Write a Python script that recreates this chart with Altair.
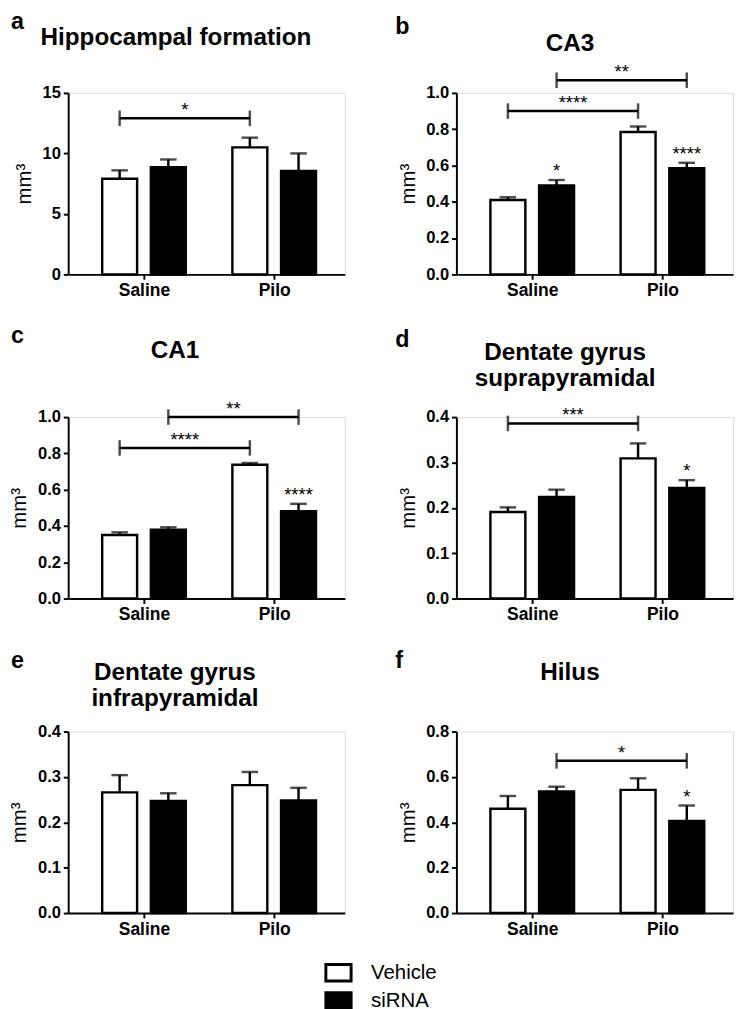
import altair as alt
import pandas as pd

# ---------------- data ----------------
groups = ["Saline", "Pilo"]
treatments = ["Vehicle", "siRNA"]

panel_letters = ["a", "b", "c", "d", "e", "f"]
panel_titles = ["Hippocampal formation", "CA3", "CA1",
                "Dentate gyrus\nsuprapyramidal", "Dentate gyrus\ninfrapyramidal", "Hilus"]
y_max = [15, 1.0, 1.0, 0.4, 0.4, 0.8]
y_step = [5, 0.2, 0.2, 0.1, 0.1, 0.2]
y_format = ["d", ".1f", ".1f", ".1f", ".1f", ".1f"]

vehicle_mean = [[7.9, 10.5], [0.41, 0.785], [0.35, 0.737], [0.191, 0.309], [0.266, 0.282], [0.46, 0.543]]
vehicle_sem = [[0.7, 0.8], [0.015, 0.03], [0.015, 0.01], [0.01, 0.033], [0.038, 0.029], [0.056, 0.051]]
sirna_mean = [[8.85, 8.55], [0.49, 0.585], [0.38, 0.482], [0.224, 0.244], [0.247, 0.248], [0.536, 0.406]]
sirna_sem = [[0.65, 1.45], [0.03, 0.03], [0.013, 0.04], [0.016, 0.017], [0.017, 0.028], [0.021, 0.068]]

# significance brackets (Saline vs Pilo within a treatment)
bracket_panel = [0, 1, 1, 2, 2, 3, 5]
bracket_treatment = ["Vehicle", "Vehicle", "siRNA", "Vehicle", "siRNA", "Vehicle", "siRNA"]
bracket_y = [12.9, 0.9, 1.07, 0.83, 1.0, 0.386, 0.671]
bracket_label = ["*", "****", "**", "****", "**", "***", "*"]

# stars above single bars
star_panel = [1, 1, 2, 3, 5]
star_group = ["Saline", "Pilo", "Pilo", "Pilo", "Pilo"]
star_treatment = ["siRNA", "siRNA", "siRNA", "siRNA", "siRNA"]
star_label = ["*", "****", "****", "*", "*"]

# ---------------- layout / style ----------------
FONT = "Liberation Sans"
W, H = 285, 187
OFF = {"Vehicle": -0.187, "siRNA": 0.187}
X_DOMAIN = [-0.545, 1.505]
TITLE_X = [111, 117, 110, 112, 110, 117]
TITLE_Y = [-49, -43, -61, -59, -53, -53]
LETTER_X = [-59, -63, -59, -63, -59, -63]
LETTER_Y = [-66, -61, -76, -72, -66, -66]

label_expr = "[" + ",".join("'%s'" % g for g in groups) + "][datum.value]"

legend = alt.Legend(
    orient="none", legendX=264, legendY=892, title=None,
    symbolType="M-1,-0.65H1V0.65H-1Z", symbolSize=676,
    symbolStrokeColor="black", symbolStrokeWidth=3,
    labelFontSize=21, labelFont=FONT, labelColor="black", labelOffset=19,
    rowPadding=0,
)


def build_panel(i):
    rows = []
    for gi, g in enumerate(groups):
        for t, ml, sl in (("Vehicle", vehicle_mean, vehicle_sem), ("siRNA", sirna_mean, sirna_sem)):
            m = ml[i][gi]
            s = sl[i][gi]
            rows.append({"group": g, "treatment": t, "pos": gi + OFF[t], "mean": m, "top": m + s})
    df = pd.DataFrame(rows)

    xscale = alt.Scale(domain=X_DOMAIN, nice=False, zero=False)
    xaxis = alt.Axis(values=[0, 1], labelExpr=label_expr, title=None, grid=False,
                     labelFontWeight="bold", labelFontSize=18, labelFont=FONT,
                     tickSize=5, tickWidth=2, domainWidth=2, labelPadding=3,
                     labelColor="black", tickColor="black", domainColor="black")
    n = int(round(y_max[i] / y_step[i]))
    yvals = [round(k * y_step[i], 3) for k in range(n + 1)]
    yscale = alt.Scale(domain=[0, y_max[i]], nice=False, zero=True)
    yaxis = alt.Axis(values=yvals, format=y_format[i], title="mm³", grid=False,
                     labelFontWeight="bold", labelFontSize=17, labelFont=FONT,
                     titleFont=FONT, titleFontSize=21, titleFontWeight="normal",
                     titlePadding=8, titleColor="black",
                     tickSize=5, tickWidth=2, domainWidth=2, labelPadding=3,
                     labelColor="black", tickColor="black", domainColor="black")

    def X(f):
        return alt.X(f, scale=xscale, axis=xaxis)

    def Y(f):
        return alt.Y(f, scale=yscale, axis=yaxis)

    base = alt.Chart(df)
    bars = base.mark_bar(orient="vertical", size=36, stroke="black", strokeWidth=2.5).encode(
        x=X("pos:Q"), y=Y("mean:Q"),
        fill=alt.Fill("treatment:N", scale=alt.Scale(domain=treatments, range=["white", "black"]),
                      legend=legend),
    )
    err = base.mark_rule(color="black", strokeWidth=2.5).encode(x=X("pos:Q"), y=Y("mean:Q"), y2="top:Q")
    cap = base.mark_tick(orient="horizontal", size=17, thickness=2.5, color="black").encode(
        x=X("pos:Q"), y=Y("top:Q"))
    layers = [bars, err, cap]

    # brackets
    brows, erows = [], []
    for p, t, yv, lab in zip(bracket_panel, bracket_treatment, bracket_y, bracket_label):
        if p != i:
            continue
        x1 = 0 + OFF[t]
        x2 = 1 + OFF[t]
        brows.append({"x1": x1, "x2": x2, "mid": (x1 + x2) / 2, "y": yv, "lab": lab})
        erows.append({"x": x1, "y": yv})
        erows.append({"x": x2, "y": yv})
    if brows:
        bdf = pd.DataFrame(brows)
        edf = pd.DataFrame(erows)
        layers.append(alt.Chart(bdf).mark_rule(color="black", strokeWidth=2.5).encode(
            x=X("x1:Q"), x2="x2:Q", y=Y("y:Q")))
        layers.append(alt.Chart(edf).mark_tick(orient="vertical", size=16, thickness=2.5, color="black").encode(
            x=X("x:Q"), y=Y("y:Q")))
        layers.append(alt.Chart(bdf).mark_text(fontSize=19, font=FONT, dy=-2, baseline="alphabetic",
                                               color="black").encode(
            x=X("mid:Q"), y=Y("y:Q"), text="lab:N"))

    srows = []
    for p, g, t, lab in zip(star_panel, star_group, star_treatment, star_label):
        if p != i:
            continue
        gi = groups.index(g)
        ml = vehicle_mean if t == "Vehicle" else sirna_mean
        sl = vehicle_sem if t == "Vehicle" else sirna_sem
        srows.append({"x": gi + OFF[t], "y": ml[i][gi] + sl[i][gi], "lab": lab})
    if srows:
        sdf = pd.DataFrame(srows)
        layers.append(alt.Chart(sdf).mark_text(fontSize=19, font=FONT, dy=-3, baseline="alphabetic",
                                               color="black").encode(
            x=X("x:Q"), y=Y("y:Q"), text="lab:N"))

    letter = alt.Chart(pd.DataFrame({"t": [panel_letters[i]]})).mark_text(
        align="left", baseline="alphabetic", fontSize=24, fontWeight="bold", font=FONT, color="black").encode(
        x=alt.value(LETTER_X[i]), y=alt.value(LETTER_Y[i]), text="t:N")
    title = alt.Chart(pd.DataFrame({"t": [panel_titles[i]]})).mark_text(
        align="center", baseline="alphabetic", fontSize=25, fontWeight="bold", font=FONT,
        lineBreak="\n", lineHeight=27, color="black").encode(
        x=alt.value(TITLE_X[i]), y=alt.value(TITLE_Y[i]), text="t:N")
    layers += [letter, title]

    return alt.layer(*layers).properties(width=W, height=H)


panels = [build_panel(i) for i in range(6)]
rows = [alt.hconcat(panels[2 * r], panels[2 * r + 1], spacing=50) for r in range(3)]
chart = alt.vconcat(*rows, spacing=24).properties(
    padding={"left": 0, "top": -14, "right": 0, "bottom": 0}
).configure_view(stroke=None).configure(font=FONT)

chart.save("out.html", embed_options={"renderer": "svg", "actions": False})
